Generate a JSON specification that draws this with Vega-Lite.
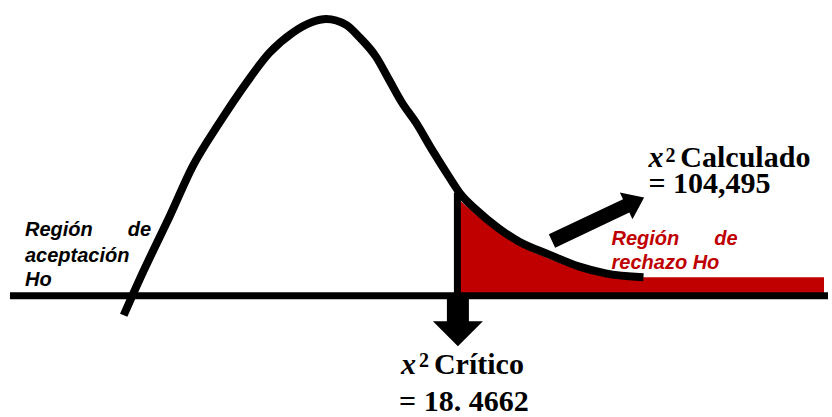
{
  "$schema": "https://vega.github.io/schema/vega-lite/v6.json",
  "width": 832,
  "height": 417,
  "autosize": {"type": "fit", "contains": "padding"},
  "padding": 0,
  "background": "white",
  "config": {"view": {"stroke": null}},
  "encoding": {
    "x": {"field": "x", "type": "quantitative", "scale": {"domain": [0, 832], "nice": false, "zero": false}, "axis": null},
    "y": {"field": "y", "type": "quantitative", "scale": {"domain": [-121, 296], "nice": false, "zero": false}, "axis": null}
  },
  "layer": [
    {
      "data": {"values": [
        {"x": 461, "y": 95}, {"x": 477, "y": 81}, {"x": 500, "y": 63}, {"x": 520, "y": 50},
        {"x": 550, "y": 37}, {"x": 580, "y": 26}, {"x": 607, "y": 20}, {"x": 633, "y": 18}, {"x": 826, "y": 18}
      ]},
      "mark": {"type": "area", "color": "#c00000", "interpolate": "monotone", "opacity": 1},
      "encoding": {"y2": {"datum": 0}}
    },
    {
      "data": {"values": [
        {"x": 124, "y": -20}, {"x": 140, "y": 16}, {"x": 157, "y": 52}, {"x": 170, "y": 79},
        {"x": 193, "y": 129}, {"x": 220, "y": 173}, {"x": 247, "y": 213}, {"x": 270, "y": 243},
        {"x": 293, "y": 263}, {"x": 313, "y": 274}, {"x": 327, "y": 277}, {"x": 347, "y": 271},
        {"x": 360, "y": 259}, {"x": 377, "y": 239}, {"x": 390, "y": 216}, {"x": 403, "y": 193},
        {"x": 417, "y": 173}, {"x": 433, "y": 146}, {"x": 450, "y": 119}, {"x": 462, "y": 101},
        {"x": 477, "y": 86}, {"x": 500, "y": 67}, {"x": 520, "y": 54}, {"x": 550, "y": 41},
        {"x": 580, "y": 29}, {"x": 607, "y": 22}, {"x": 645, "y": 18}
      ]},
      "mark": {"type": "line", "color": "black", "strokeWidth": 8, "interpolate": "monotone"}
    },
    {
      "data": {"values": [{"x": 458.5, "y": 103, "y2": 0}]},
      "mark": {"type": "rule", "color": "black", "strokeWidth": 7},
      "encoding": {"y2": {"field": "y2"}}
    },
    {
      "data": {"values": [{"x": 10, "x2": 830, "y": -0.5}]},
      "mark": {"type": "rule", "color": "black", "strokeWidth": 7},
      "encoding": {"x2": {"field": "x2"}}
    },
    {
      "data": {"values": [{"x": 459, "y": -26.5}]},
      "mark": {"type": "point", "filled": true, "color": "black", "opacity": 1, "strokeWidth": 0, "size": 2500,
        "shape": "M-0.44,-0.98 L0.44,-0.98 L0.44,-0.02 L1,-0.02 L0,0.98 L-1,-0.02 L-0.44,-0.02 Z"}
    },
    {
      "data": {"values": [{"x": 599.5, "y": 76.25}]},
      "mark": {"type": "point", "filled": true, "color": "black", "opacity": 1, "strokeWidth": 0, "size": 10380, "angle": 64.7,
        "shape": "M-0.145,1 L-0.145,-0.61 L-0.29,-0.61 L0,-1 L0.29,-0.61 L0.145,-0.61 L0.145,1 Z"}
    },
    {
      "data": {"values": [
        {"x": 25, "y": 59, "t": "Región"}, {"x": 128, "y": 59, "t": "de"},
        {"x": 25, "y": 33, "t": "aceptación"}, {"x": 25, "y": 9, "t": "Ho"}
      ]},
      "mark": {"type": "text", "align": "left", "baseline": "alphabetic", "font": "Liberation Sans", "fontSize": 20, "fontWeight": "bold", "fontStyle": "italic", "color": "black"},
      "encoding": {"text": {"field": "t"}}
    },
    {
      "data": {"values": [
        {"x": 613, "y": 50, "t": "Región"}, {"x": 716, "y": 50, "t": "de"},
        {"x": 613, "y": 26, "t": "rechazo Ho"}
      ]},
      "mark": {"type": "text", "align": "left", "baseline": "alphabetic", "font": "Liberation Sans", "fontSize": 20, "fontWeight": "bold", "fontStyle": "italic", "color": "#c00000"},
      "encoding": {"text": {"field": "t"}}
    },
    {
      "data": {"values": [
        {"x": 682, "y": 129, "t": "Calculado"}, {"x": 650, "y": 103, "t": "= 104,495"},
        {"x": 435, "y": -79, "t": "Crítico"}, {"x": 400, "y": -116, "t": "= 18. 4662"}
      ]},
      "mark": {"type": "text", "align": "left", "baseline": "alphabetic", "font": "Liberation Serif", "fontSize": 30, "fontWeight": "bold", "color": "black"},
      "encoding": {"text": {"field": "t"}}
    },
    {
      "data": {"values": [
        {"x": 650, "y": 129, "t": "x"}, {"x": 402, "y": -79, "t": "x"}
      ]},
      "mark": {"type": "text", "align": "left", "baseline": "alphabetic", "font": "Liberation Serif", "fontSize": 30, "fontWeight": "bold", "fontStyle": "italic", "color": "black"},
      "encoding": {"text": {"field": "t"}}
    },
    {
      "data": {"values": [
        {"x": 667, "y": 134, "t": "2"}, {"x": 420, "y": -72, "t": "2"}
      ]},
      "mark": {"type": "text", "align": "left", "baseline": "alphabetic", "font": "Liberation Serif", "fontSize": 20, "fontWeight": "bold", "color": "black"},
      "encoding": {"text": {"field": "t"}}
    }
  ]
}
